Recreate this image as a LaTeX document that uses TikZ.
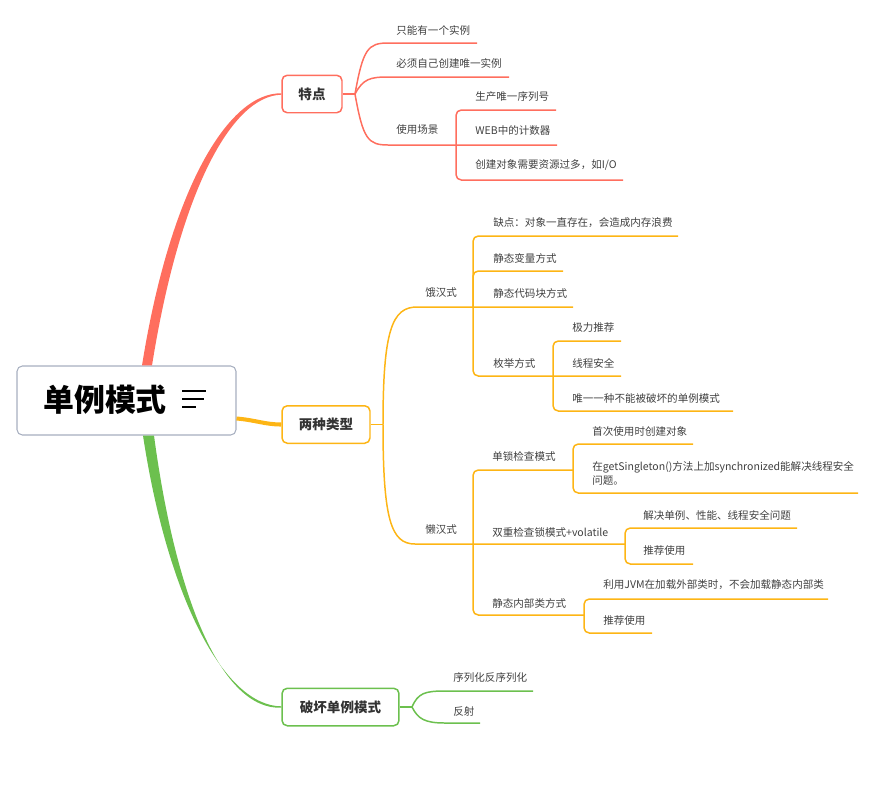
\documentclass[tikz,border=0pt]{standalone}
\usepackage{fontspec}
\setmainfont{Noto Sans CJK SC}
\usepackage{xcolor}
\usepackage{tikz}
\usetikzlibrary{positioning, calc}

\definecolor{redB}{HTML}{FF6E5E}
\definecolor{orgB}{HTML}{FDB515}
\definecolor{grnB}{HTML}{6CC04E}
\definecolor{rootgray}{HTML}{A7AFC0}
\definecolor{topictext}{HTML}{333333}
\definecolor{leaftext}{HTML}{404040}

\begin{document}
\begin{tikzpicture}[x=0.02cm, y=-0.02cm,
        root/.style={rectangle, rounded corners=3pt, draw=rootgray, line width=0.6pt, fill=white, minimum width=4.38cm, minimum height=1.38cm},
        topic/.style={rectangle, rounded corners=3pt, line width=0.85pt, fill=white, minimum height=0.75cm, inner sep=0pt, font=\fontsize{7.7}{9}\selectfont\bfseries, text=topictext},
        leaf/.style={anchor=west, inner sep=0pt, font=\fontsize{6}{7.9}\selectfont, text=leaftext, align=left},
        redline/.style={draw=redB, line width=0.85pt},
        orgline/.style={draw=orgB, line width=0.85pt},
        grnline/.style={draw=grnB, line width=0.85pt},
        bracket/.style={rounded corners=3pt}
    ]
    \useasboundingbox (0,0) rectangle (875,785);

    % Root
    \node[root] (root) at (126.5,400.5) {};
    \node[font=\fontsize{17.6}{20}\selectfont\bfseries, text=black, inner sep=0pt] (title) at (105,400) {单例模式};
    \draw[line width=0.9pt] (182,391) -- (206,391);
    \draw[line width=0.9pt] (182,399) -- (204,399);
    \draw[line width=0.9pt] (182,407) -- (196,407);

    % Main topics
    \node[topic, draw=redB, minimum width=1.2cm] (tedian) at (312,94) {特点};
    \node[topic, draw=orgB, minimum width=1.76cm] (leixing) at (326,424.5) {两种类型};
    \node[topic, draw=grnB, minimum width=2.34cm] (pohuai) at (340.5,707) {破坏单例模式};

    % Main branches
    \fill[redB] ($(root.north)+(15.5,0)$) .. controls (170,190) and (228,92.5) .. ($(tedian.west)+(0,-0.7)$)
        -- ($(tedian.west)+(0,0.7)$) .. controls (232,96) and (180,190) .. ($(root.north)+(25.5,0)$) -- cycle;
    \fill[grnB] ($(root.south)+(16.5,0)$) .. controls (168,600) and (225,706) .. ($(pohuai.west)+(0,-0.7)$)
        -- ($(pohuai.west)+(0,0.7)$) .. controls (222,710) and (176,600) .. ($(root.south)+(27.5,0)$) -- cycle;
    \draw[orgB, line width=2.3pt] ($(root.east)+(0,18)$) .. controls (255,420) and (265,424.5) .. (leixing.west);

    % Branch 1: 特点
    \coordinate (td-j) at (355,94);
    \node[leaf] (a1) at (396,30) {只能有一个实例};
    \coordinate (a1-s) at (388,43);
    \coordinate (a1-e) at (477,43);
    \node[leaf] (a2) at (396,63) {必须自己创建唯一实例};
    \coordinate (a2-s) at (388,77);
    \coordinate (a2-e) at (509,77);
    \node[leaf] (a3) at (396,130) {使用场景};
    \coordinate (a3-s) at (388,145);
    \coordinate (a3-p) at (456,145);
    \node[leaf] (b1) at (475,96) {生产唯一序列号};
    \coordinate (b1-e) at (556,110);
    \node[leaf] (b2) at (475,130) {WEB中的计数器};
    \coordinate (b2-e) at (557,145);
    \node[leaf] (b3) at (475,165) {创建对象需要资源过多，如I/O};
    \coordinate (b3-e) at (623,180);

    \draw[redline] (tedian.east) -- (td-j);
    \draw[redline] (td-j) .. controls +(8,-45) and +(-20,0) .. (a1-s) -- (a1-e);
    \draw[redline] (td-j) .. controls +(8,-15) and +(-18,0) .. (a2-s) -- (a2-e);
    \draw[redline] (td-j) .. controls +(8,45) and +(-20,0) .. (a3-s) -- (b2-e);
    \draw[redline, bracket] (a3-p) |- (b1-e);
    \draw[redline, bracket] (a3-p) |- (b3-e);

    % Branch 2: 两种类型
    \coordinate (lx-j) at (383,424.5);
    \draw[orgline] (leixing.east) -- (lx-j);

    % 饿汉式
    \node[leaf] (ehan) at (425,293) {饿汉式};
    \coordinate (eh-s) at (417,307);
    \coordinate (eh-p) at (473,307);
    \node[leaf] (c1) at (493,223) {缺点：对象一直存在，会造成内存浪费};
    \coordinate (c1-e) at (678,236);
    \node[leaf] (c2) at (493,258) {静态变量方式};
    \coordinate (c2-e) at (563,271);
    \node[leaf] (c3) at (493,293) {静态代码块方式};
    \coordinate (c3-e) at (573,307);
    \node[leaf] (c4) at (493,363) {枚举方式};
    \coordinate (d-p) at (553,376);
    \node[leaf] (d1) at (572,328) {极力推荐};
    \coordinate (d1-e) at (621,341);
    \node[leaf] (d2) at (572,363) {线程安全};
    \coordinate (d2-e) at (621,376);
    \node[leaf] (d3) at (572,398) {唯一一种不能被破坏的单例模式};
    \coordinate (d3-e) at (733,411);

    \draw[orgline] (lx-j) .. controls +(0,-94) and +(-25,0) .. (eh-s) -- (c3-e);
    \draw[orgline, bracket] (eh-p) |- (c1-e);
    \draw[orgline, bracket] (eh-p) |- (c2-e);
    \draw[orgline, bracket] (eh-p) |- (d2-e);
    \draw[orgline, bracket] (d-p) |- (d1-e);
    \draw[orgline, bracket] (d-p) |- (d3-e);

    % 懒汉式
    \node[leaf] (lanhan) at (425,529) {懒汉式};
    \coordinate (lh-s) at (415,544);
    \coordinate (lh-p) at (473,544);
    \node[leaf] (e1) at (492,456) {单锁检查模式};
    \coordinate (f-p) at (573,470);
    \node[leaf] (f1) at (592,431) {首次使用时创建对象};
    \coordinate (f1-e) at (693,444);
    \node[leaf] (f2) at (592,473) {在getSingleton()方法上加synchronized能解决线程安全\\问题。};
    \coordinate (f2-e) at (858,493);
    \node[leaf] (e2) at (492,532) {双重检查锁模式+volatile};
    \coordinate (g-p) at (625,544);
    \node[leaf] (g1) at (643,515) {解决单例、性能、线程安全问题};
    \coordinate (g1-e) at (797,528);
    \node[leaf] (g2) at (643,550) {推荐使用};
    \coordinate (g2-e) at (693,564);
    \node[leaf] (e3) at (492,603) {静态内部类方式};
    \coordinate (h-p) at (584,615);
    \node[leaf] (h1) at (603,585) {利用JVM在加载外部类时，不会加载静态内部类};
    \coordinate (h1-e) at (828,599);
    \node[leaf] (h2) at (603,620) {推荐使用};
    \coordinate (h2-e) at (652,633);

    \draw[orgline] (lx-j) .. controls +(0,95) and +(-24,0) .. (lh-s) -- (g-p);
    \draw[orgline, bracket] (lh-p) |- (f-p);
    \draw[orgline, bracket] (lh-p) |- (h-p);
    \draw[orgline, bracket] (f-p) |- (f1-e);
    \draw[orgline, bracket] (f-p) |- (f2-e);
    \draw[orgline, bracket] (g-p) |- (g1-e);
    \draw[orgline, bracket] (g-p) |- (g2-e);
    \draw[orgline, bracket] (h-p) |- (h1-e);
    \draw[orgline, bracket] (h-p) |- (h2-e);

    % Branch 3: 破坏单例模式
    \coordinate (ph-j) at (412,707);
    \node[leaf] (p1) at (453,677) {序列化反序列化};
    \coordinate (p1-s) at (445,691);
    \coordinate (p1-e) at (533,691);
    \node[leaf] (p2) at (453,711) {反射};
    \coordinate (p2-s) at (445,723);
    \coordinate (p2-e) at (480,723);

    \draw[grnline] (pohuai.east) -- (ph-j);
    \draw[grnline] (ph-j) .. controls +(6,-14) and +(-20,0) .. (p1-s) -- (p1-e);
    \draw[grnline] (ph-j) .. controls +(6,12) and +(-20,0) .. (p2-s) -- (p2-e);

\end{tikzpicture}
\end{document}
